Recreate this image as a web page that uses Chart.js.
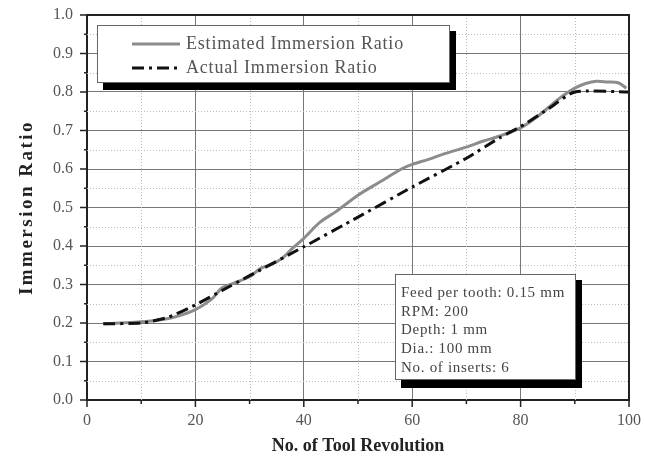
<!DOCTYPE html>
<html>
<head>
<meta charset="utf-8">
<script src="https://cdn.jsdelivr.net/npm/chart.js@4/dist/chart.umd.min.js"></script>
<style>
  html, body { margin: 0; padding: 0; background: #fff; }
  #wrap { width: 645px; height: 459px; }
</style>
</head>
<body>
<div id="wrap"><canvas id="chart" width="645" height="459"></canvas></div>
<script>
// revolutions / immersion ratio
const estRev = [3, 6, 10, 13, 16, 20, 23, 25, 27, 30, 32, 34, 36, 38, 40, 43, 46, 50, 54, 58, 60, 63, 66, 70, 73, 76, 80, 83, 86, 88, 90, 92, 94, 96, 98, 99.5];
const estRatio = [0.198, 0.2, 0.203, 0.207, 0.215, 0.235, 0.262, 0.292, 0.303, 0.32, 0.342, 0.352, 0.368, 0.395, 0.42, 0.462, 0.49, 0.532, 0.566, 0.6, 0.612, 0.625, 0.64, 0.657, 0.672, 0.685, 0.707, 0.735, 0.77, 0.792, 0.81, 0.822, 0.828, 0.826, 0.824, 0.81];

const actRev = [3, 10, 15, 20, 25, 30, 40, 50, 60, 70, 76, 80, 85, 90, 100];
const actRatio = [0.198, 0.2, 0.215, 0.247, 0.285, 0.323, 0.398, 0.475, 0.553, 0.628, 0.68, 0.71, 0.755, 0.8, 0.8];

const seriesNames = ['Estimated Immersion Ratio', 'Actual Immersion Ratio'];
const infoLines = ['Feed per tooth: 0.15 mm', 'RPM: 200', 'Depth: 1 mm', 'Dia.: 100 mm', 'No. of inserts: 6'];
const xTitle = 'No. of Tool Revolution';
const yTitle = 'Immersion Ratio';

const serif = '"Liberation Serif", "Times New Roman", serif';

function pts(xs, ys) {
    return xs.map((x, i) => ({ x: x, y: ys[i] }));
}

// minor dotted grid, tick marks, frame
const gridExtras = {
    id: 'gridExtras',
    beforeDatasetsDraw(chart) {
        const { ctx, chartArea: a, scales: { x, y } } = chart;
        ctx.save();
        ctx.strokeStyle = '#bdbdbd';
        ctx.lineWidth = 1;
        ctx.setLineDash([1, 2]);
        for (let v = 10; v < 100; v += 20) {
            const px = Math.round(x.getPixelForValue(v)) + 0.5;
            ctx.beginPath(); ctx.moveTo(px, a.top); ctx.lineTo(px, a.bottom); ctx.stroke();
        }
        for (let v = 0.05; v < 1; v += 0.1) {
            const py = Math.round(y.getPixelForValue(v)) + 0.5;
            ctx.beginPath(); ctx.moveTo(a.left, py); ctx.lineTo(a.right, py); ctx.stroke();
        }
        ctx.restore();
    },
    afterDraw(chart) {
        const { ctx, chartArea: a, scales: { x, y } } = chart;
        ctx.save();
        ctx.strokeStyle = '#222';
        ctx.lineWidth = 2;
        // top / right frame
        ctx.beginPath();
        ctx.moveTo(a.left, a.top); ctx.lineTo(a.right, a.top); ctx.lineTo(a.right, a.bottom);
        ctx.stroke();
        // ticks
        ctx.lineWidth = 1.5;
        for (let i = 0; i <= 20; i++) {
            const v = i * 0.05;
            const py = y.getPixelForValue(v);
            const len = i % 2 === 0 ? 7 : 3;
            ctx.beginPath(); ctx.moveTo(a.left - len, py); ctx.lineTo(a.left, py); ctx.stroke();
        }
        for (let v = 0; v <= 100; v += 10) {
            const px = x.getPixelForValue(v);
            const len = v % 20 === 0 ? 7 : 4;
            ctx.beginPath(); ctx.moveTo(px, a.bottom); ctx.lineTo(px, a.bottom + len); ctx.stroke();
        }
        ctx.restore();

        // axis titles
        ctx.save();
        ctx.fillStyle = '#222';
        ctx.font = 'bold 18px ' + serif;
        ctx.textAlign = 'center';
        ctx.textBaseline = 'middle';
        ctx.fillText(xTitle, (a.left + a.right) / 2, 446);
        ctx.translate(27, (a.top + a.bottom) / 2);
        ctx.rotate(-Math.PI / 2);
        ctx.font = 'bold 19px ' + serif;
        ctx.letterSpacing = '2.5px';
        ctx.fillText(yTitle, 0, 0);
        ctx.restore();

        // legend box
        ctx.save();
        ctx.fillStyle = '#000';
        ctx.fillRect(103, 31, 353, 59);
        ctx.fillStyle = '#fff';
        ctx.fillRect(97, 25, 353, 58);
        ctx.strokeStyle = '#666';
        ctx.lineWidth = 1;
        ctx.strokeRect(97.5, 25.5, 352, 57);
        const ds = chart.data.datasets;
        [44, 68].forEach((ly, i) => {
            ctx.strokeStyle = ds[i].borderColor;
            ctx.lineWidth = ds[i].borderWidth;
            ctx.setLineDash(ds[i].borderDash || []);
            ctx.beginPath(); ctx.moveTo(132, ly); ctx.lineTo(180, ly); ctx.stroke();
            ctx.setLineDash([]);
            ctx.fillStyle = '#555';
            ctx.font = '18px ' + serif;
            ctx.letterSpacing = '0.8px';
            ctx.textBaseline = 'middle';
            ctx.fillText(seriesNames[i], 186, ly);
        });
        ctx.restore();

        // parameters box
        ctx.save();
        ctx.fillStyle = '#000';
        ctx.fillRect(401, 280, 181, 108);
        ctx.fillStyle = '#fff';
        ctx.fillRect(395, 274, 181, 106);
        ctx.strokeStyle = '#666';
        ctx.lineWidth = 1;
        ctx.strokeRect(395.5, 274.5, 180, 105);
        ctx.fillStyle = '#444';
        ctx.font = '15px ' + serif;
        ctx.letterSpacing = '0.7px';
        ctx.textBaseline = 'middle';
        infoLines.forEach((t, i) => ctx.fillText(t, 401, 293 + i * 18.7));
        ctx.restore();
    }
};

new Chart(document.getElementById('chart'), {
    type: 'line',
    data: {
        datasets: [
            {
                label: seriesNames[0],
                data: pts(estRev, estRatio),
                borderColor: '#8c8c8c',
                borderWidth: 3,
                pointRadius: 0,
                tension: 0.3,
                fill: false,
                order: 2
            },
            {
                label: seriesNames[1],
                data: pts(actRev, actRatio),
                borderColor: '#111',
                borderWidth: 3,
                borderDash: [12, 5, 3, 5],
                pointRadius: 0,
                tension: 0.2,
                fill: false,
                order: 1
            }
        ]
    },
    options: {
        responsive: false,
        animation: false,
        layout: { padding: { top: 15, right: 16, left: 0, bottom: 0 } },
        plugins: { legend: { display: false }, tooltip: { enabled: false } },
        scales: {
            x: {
                type: 'linear',
                min: 0,
                max: 100,
                ticks: { stepSize: 20, color: '#555', padding: 11, font: { family: serif, size: 16 } },
                grid: { color: '#777', lineWidth: 1, drawTicks: false },
                border: { color: '#222', width: 2 },
                afterFit: s => { s.height = 59; s.paddingLeft = 0; s.paddingRight = 0; }
            },
            y: {
                min: 0,
                max: 1,
                ticks: { stepSize: 0.1, color: '#555', padding: 14, font: { family: serif, size: 16 }, callback: v => v.toFixed(1) },
                grid: { color: '#777', lineWidth: 1, drawTicks: false },
                border: { color: '#222', width: 2 },
                afterFit: s => { s.width = 87; s.paddingTop = 0; s.paddingBottom = 0; }
            }
        }
    },
    plugins: [gridExtras]
});
</script>
</body>
</html>
